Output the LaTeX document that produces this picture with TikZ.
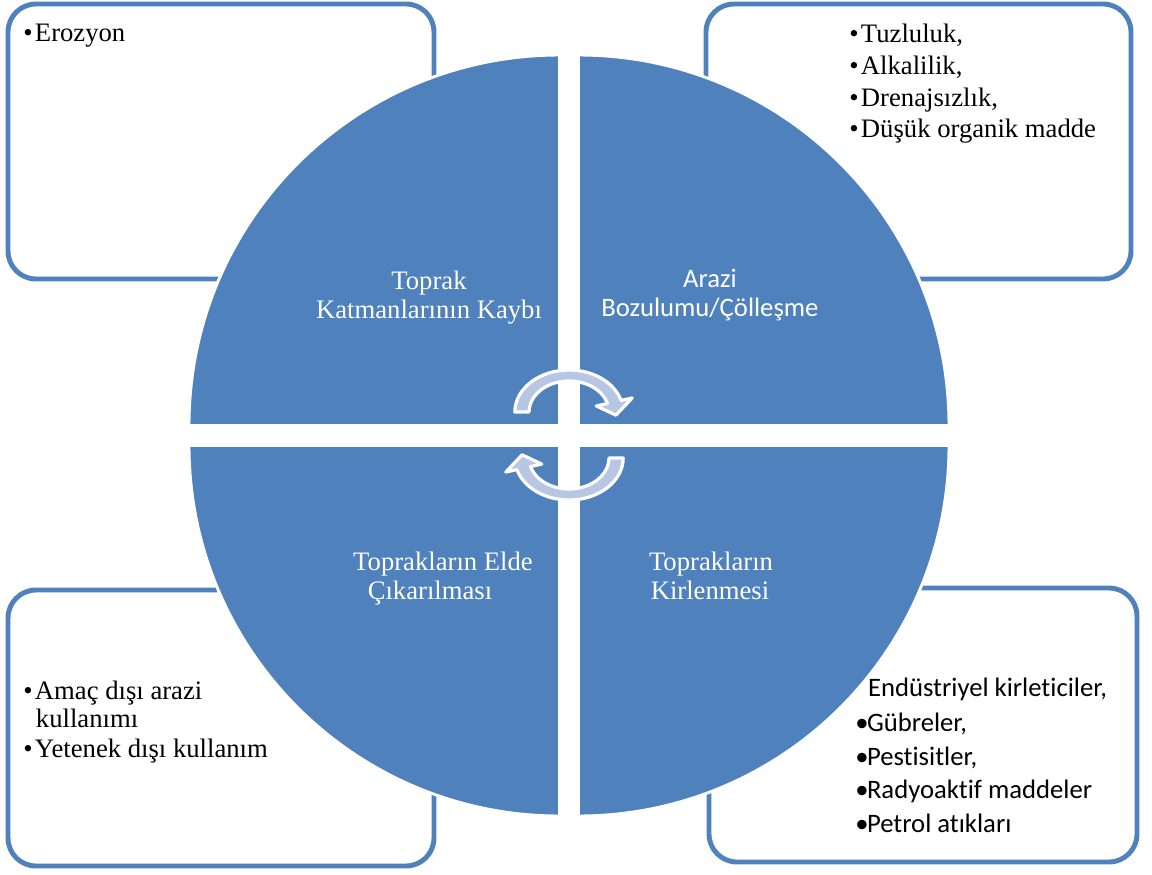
\documentclass[tikz,border=0pt]{standalone}
\usepackage{fontspec}
\setmainfont{Liberation Serif}
\newfontfamily\calibrifont[Ligatures=NoCommon]{Carlito}
\definecolor{accent}{RGB}{79,129,189}
\definecolor{cyclefill}{RGB}{183,198,226}
\newcommand{\bul}{\makebox[8.8pt][l]{•}}
\newcommand{\nobul}{\makebox[8.8pt][l]{}}
\tikzset{
  panel/.style={draw=accent, line width=3.7pt, rounded corners=21pt, fill=white},
  quarter/.style={fill=accent, draw=white, line width=2.2pt},
  entry/.style={anchor=base west, inner sep=0pt, font=\fontsize{20}{24}\selectfont},
  centry/.style={anchor=base west, inner sep=0pt, font=\calibrifont\fontsize{20}{24}\selectfont},
  qtext/.style={anchor=base, inner sep=0pt, text=white, font=\fontsize{20}{24}\selectfont},
  cqtext/.style={anchor=base, inner sep=0pt, text=white, font=\calibrifont\fontsize{20}{24}\selectfont},
  cyc/.style={fill=cyclefill, draw=white, line width=2.4pt, line join=round}
}
\begin{document}
\begin{tikzpicture}[x=0.75pt, y=-0.75pt]
\useasboundingbox (0,0) rectangle (1152,874);

% corner panels
\draw[panel] (8,4) rectangle (434,279);
\draw[panel] (706,4) rectangle (1131,279);
\draw[panel] (8,590) rectangle (434,866);
\draw[panel] (709,588) rectangle (1137,862);

% panel lists
\node[entry] (e1) at (23,42) {\bul Erozyon};

\node[entry] (t1) at (849,43) {\bul Tuzluluk,};
\node[entry] (t2) at (849,74.5) {\bul Alkalilik,};
\node[entry] (t3) at (849,106) {\bul Drenajsızlık,};
\node[entry] (t4) at (849,137.5) {\bul Düşük organik madde};

\node[entry] (b1) at (23,699) {\bul Amaç dışı arazi};
\node[entry] (b2) at (35.7,727) {kullanımı};
\node[entry] (b3) at (23,757) {\bul Yetenek dışı kullanım};

\node[centry] (r1) at (856,696) {\nobul Endüstriyel kirleticiler,};
\node[centry] (r2) at (855,731) {\bul Gübreler,};
\node[centry] (r3) at (855,765) {\bul Pestisitler,};
\node[centry] (r4) at (855,798) {\bul Radyoaktif maddeler};
\node[centry] (r5) at (855,832) {\bul Petrol atıkları};

% the four quarters of the central disc
\draw[quarter] (559.5,425.5) -- (189,425.5) arc[start angle=180, end angle=270, radius=370.5] -- cycle;
\draw[quarter] (578.5,425.5) -- (578.5,55) arc[start angle=270, end angle=360, radius=370.5] -- cycle;
\draw[quarter] (559.5,445.5) -- (559.5,816) arc[start angle=90, end angle=180, radius=370.5] -- cycle;
\draw[quarter] (578.5,445.5) -- (949,445.5) arc[start angle=0, end angle=90, radius=370.5] -- cycle;

% quarter titles
\node[qtext] (q1a) at (429,289) {Toprak};
\node[qtext] (q1b) at (429,318) {Katmanlarının Kaybı};
\node[cqtext] (q2a) at (710,287) {Arazi};
\node[cqtext] (q2b) at (710,316) {Bozulumu/Çölleşme};
\node[qtext] (q3a) at (443,570) {Toprakların Elde};
\node[qtext] (q3b) at (430,599) {Çıkarılması};
\node[qtext] (q4a) at (711,570) {Toprakların};
\node[qtext] (q4b) at (710,599) {Kirlenmesi};

% cycle arrows in the middle
\begin{scope}[shift={(569,412)}, xscale=1.29, yscale=-1]
  \draw[cyc] (180:42) arc[start angle=180, end angle=16, radius=42]
    -- (16:51) -- (-5:36.5) -- (16:22) -- (16:31)
    arc[start angle=16, end angle=180, radius=31] -- cycle;
\end{scope}
\begin{scope}[shift={(569,458)}, xscale=1.29, yscale=-1, rotate=180]
  \draw[cyc] (180:42) arc[start angle=180, end angle=16, radius=42]
    -- (16:51) -- (-5:36.5) -- (16:22) -- (16:31)
    arc[start angle=16, end angle=180, radius=31] -- cycle;
\end{scope}
\end{tikzpicture}
\end{document}
